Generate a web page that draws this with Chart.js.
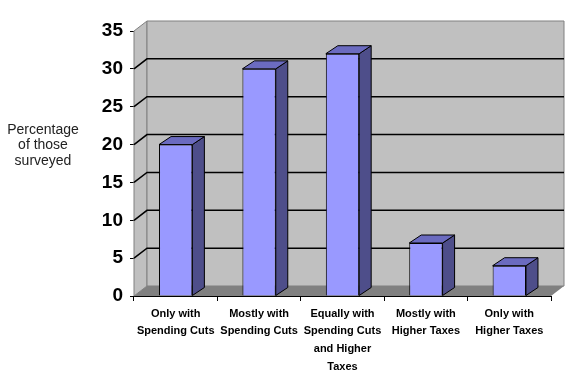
<!DOCTYPE html>
<html>
<head>
<meta charset="utf-8">
<script src="https://cdn.jsdelivr.net/npm/chart.js@4"></script>
<style>
  body { margin: 0; background: #fff; }
</style>
</head>
<body>
<canvas id="myChart" width="571" height="381"></canvas>
<script>
var categories = [
    ['Only with', 'Spending Cuts'],
    ['Mostly with', 'Spending Cuts'],
    ['Equally with', 'Spending Cuts', 'and Higher', 'Taxes'],
    ['Mostly with', 'Higher Taxes'],
    ['Only with', 'Higher Taxes']
];
var values = [20, 30, 32, 7, 4];
var yTicks = [0, 5, 10, 15, 20, 25, 30, 35];
var yTitle = ['Percentage', 'of those', 'surveyed'];

// depth offsets for the fake 3d look
var WALL_DX = 13, WALL_DY = -10;
var BAR_DX = 12, BAR_DY = -8;

var threeD = {
    id: 'threeD',
    beforeDatasetsDraw: function (chart) {
        var ctx = chart.ctx;
        var y = chart.scales.y;
        var a = chart.chartArea;
        var L = a.left, R = a.right;
        var T = y.getPixelForValue(yTicks[yTicks.length - 1]);
        var B = y.getPixelForValue(0);
        ctx.save();
        ctx.lineWidth = 1;
        ctx.strokeStyle = '#808080';
        // left wall
        ctx.fillStyle = '#c0c0c0';
        ctx.beginPath();
        ctx.moveTo(L, B); ctx.lineTo(L, T);
        ctx.lineTo(L + WALL_DX, T + WALL_DY); ctx.lineTo(L + WALL_DX, B + WALL_DY);
        ctx.closePath(); ctx.fill(); ctx.stroke();
        // back wall
        ctx.beginPath();
        ctx.rect(L + WALL_DX, T + WALL_DY, R - L, B - T);
        ctx.fill(); ctx.stroke();
        // floor
        ctx.fillStyle = '#808080';
        ctx.beginPath();
        ctx.moveTo(L, B); ctx.lineTo(R, B);
        ctx.lineTo(R + WALL_DX, B + WALL_DY); ctx.lineTo(L + WALL_DX, B + WALL_DY);
        ctx.closePath(); ctx.fill();
        // grid lines
        ctx.strokeStyle = '#000';
        ctx.lineWidth = 1.5;
        for (var i = 1; i < yTicks.length - 1; i++) {
            var yv = y.getPixelForValue(yTicks[i]);
            ctx.beginPath();
            ctx.moveTo(L, yv);
            ctx.lineTo(L + WALL_DX, yv + WALL_DY);
            ctx.lineTo(R + WALL_DX, yv + WALL_DY);
            ctx.stroke();
        }
        ctx.restore();
    },
    afterDatasetsDraw: function (chart) {
        var ctx = chart.ctx;
        var meta = chart.getDatasetMeta(0);
        ctx.save();
        ctx.lineWidth = 1;
        ctx.strokeStyle = '#000';
        meta.data.forEach(function (bar) {
            var p = bar.getProps(['x', 'y', 'base', 'width'], true);
            var l = p.x - p.width / 2, r = p.x + p.width / 2;
            // side
            ctx.fillStyle = '#4e4e8a';
            ctx.beginPath();
            ctx.moveTo(r, p.y); ctx.lineTo(r + BAR_DX, p.y + BAR_DY);
            ctx.lineTo(r + BAR_DX, p.base + BAR_DY); ctx.lineTo(r, p.base);
            ctx.closePath(); ctx.fill(); ctx.stroke();
            // top
            ctx.fillStyle = '#6b6bc0';
            ctx.beginPath();
            ctx.moveTo(l, p.y); ctx.lineTo(l + BAR_DX, p.y + BAR_DY);
            ctx.lineTo(r + BAR_DX, p.y + BAR_DY); ctx.lineTo(r, p.y);
            ctx.closePath(); ctx.fill(); ctx.stroke();
        });
        ctx.restore();
    },
    afterDraw: function (chart) {
        var ctx = chart.ctx;
        ctx.save();
        ctx.fillStyle = '#222';
        ctx.font = '14px "Liberation Sans", Arial, sans-serif';
        ctx.textAlign = 'center';
        ctx.textBaseline = 'middle';
        var ys = [130, 145.5, 161];
        for (var i = 0; i < yTitle.length; i++) {
            ctx.fillText(yTitle[i], 43, ys[i]);
        }
        ctx.restore();
    }
};

var ctx = document.getElementById('myChart');
var chart = new Chart(ctx, {
    type: 'bar',
    data: {
        labels: categories,
        datasets: [{
            data: values,
            backgroundColor: '#9999ff',
            borderColor: '#000',
            borderWidth: 1,
            barPercentage: 0.4,
            categoryPercentage: 1
        }]
    },
    options: {
        responsive: false,
        animation: false,
        layout: { padding: { left: 0, right: 20, top: 31, bottom: 0 } },
        scales: {
            y: {
                min: 0,
                max: 35,
                afterFit: function (s) { s.width = 134; },
                afterBuildTicks: function (s) {
                    s.ticks = yTicks.map(function (v) { return { value: v }; });
                },
                grid: { drawOnChartArea: false, drawTicks: true, tickLength: 4, color: '#000' },
                border: { display: true, color: '#000', width: 1 },
                ticks: {
                    padding: 7,
                    color: '#000',
                    font: { family: '"Liberation Sans", Arial, sans-serif', size: 19, weight: 'bold' }
                }
            },
            x: {
                afterFit: function (s) { s.height = 85; },
                grid: { drawOnChartArea: false, drawTicks: true, tickLength: 5, color: '#000' },
                border: { display: true, color: '#000', width: 1 },
                ticks: {
                    padding: 4,
                    maxRotation: 0,
                    autoSkip: false,
                    color: '#000',
                    font: { family: '"Liberation Sans", Arial, sans-serif', size: 11, weight: 'bold', lineHeight: 1.6 }
                }
            }
        },
        plugins: {
            legend: { display: false },
            tooltip: { enabled: false },
            title: { display: false }
        }
    },
    plugins: [threeD]
});
</script>
</body>
</html>
